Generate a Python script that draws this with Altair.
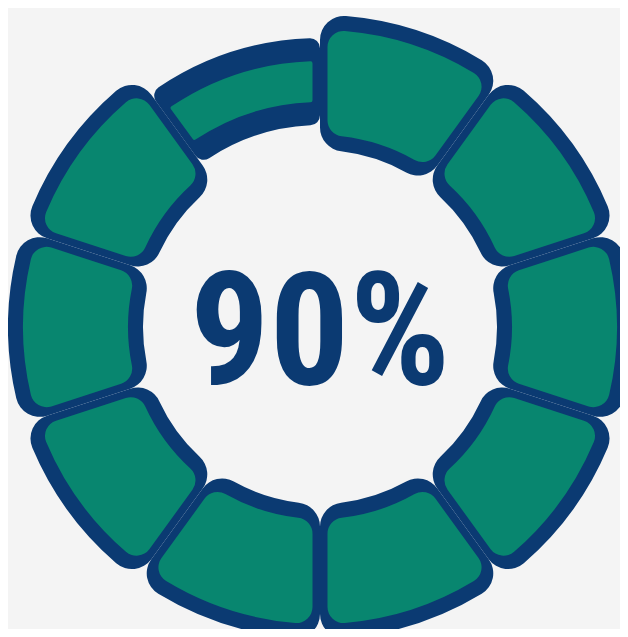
import math
import altair as alt
import pandas as pd

# ---- data ----
segments = list(range(1, 11))
values = [1] * 10
kinds = ["full"] * 9 + ["partial"]
center_label = ["90%"]

BLUE = "#0b3a72"
GREEN = "#08866f"
BG = "#f4f4f4"

df = pd.DataFrame({"segment": segments, "value": values, "kind": kinds})
lab = pd.DataFrame({"label": center_label})

CX, CY = 312, 319
theta_scale = alt.Scale(domain=[0, sum(values)], range=[0, 2 * math.pi])

base = (
    alt.Chart(df)
    .transform_window(cum="sum(value)", sort=[alt.SortField("segment")])
    .transform_calculate(start="datum.cum - datum.value", end="datum.cum")
)

enc = dict(
    theta=alt.Theta("start:Q", scale=theta_scale),
    theta2="end:Q",
    x=alt.value(CX),
    y=alt.value(CY),
)

partial_blue = base.transform_filter("datum.kind == 'partial'").mark_arc(
    color=BLUE, outerRadius=289, innerRadius=202, cornerRadius=10
).encode(**enc)

partial_green = base.transform_filter("datum.kind == 'partial'").mark_arc(
    color=GREEN, outerRadius=266, innerRadius=225, cornerRadius=2,
    padAngle=15 / math.hypot(266, 225)
).encode(**enc)

full_blue = base.transform_filter("datum.kind == 'full'").mark_arc(
    color=BLUE, outerRadius=312, innerRadius=177, cornerRadius=24
).encode(**enc)

full_green = base.transform_filter("datum.kind == 'full'").mark_arc(
    color=GREEN, outerRadius=297, innerRadius=192, cornerRadius=16,
    padAngle=15 / math.hypot(297, 192)
).encode(**enc)

text = alt.Chart(lab).mark_text(
    font="Roboto Condensed, Open Sans Condensed, DejaVu Sans Condensed, sans-serif",
    fontSize=158,
    fontWeight="bold",
    color=BLUE,
    align="center",
    baseline="alphabetic",
).encode(text="label:N", x=alt.value(CX), y=alt.value(376))

chart = (
    alt.layer(partial_blue, partial_green, full_blue, full_green, text)
    .properties(width=612, height=621, background=BG, padding=0,
                autosize=alt.AutoSizeParams(type="none"))
    .configure_view(stroke=None)
)

chart.save("out.html", embed_options={"renderer": "svg", "actions": False})
